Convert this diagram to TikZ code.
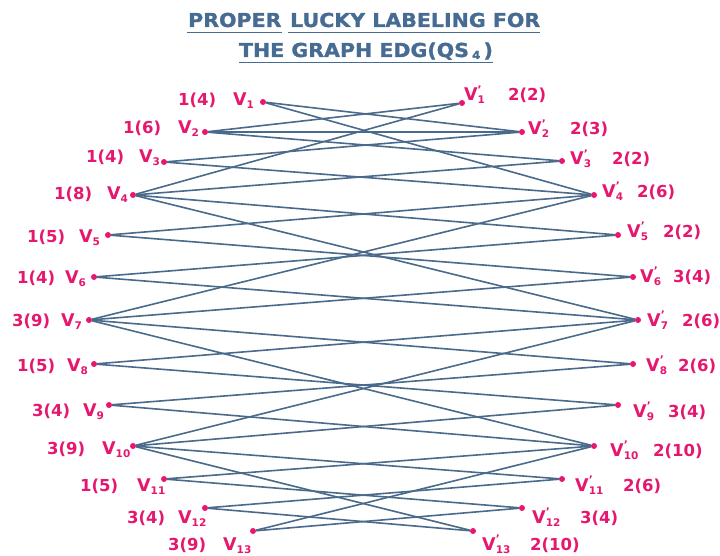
\documentclass[tikz,border=0pt]{standalone}
\usepackage{fontspec}
\usepackage{graphicx}
\setmainfont{DejaVu Sans}
\newfontfamily\ttlfont[FakeBold=1.2]{DejaVu Sans Bold}
\definecolor{edgec}{HTML}{4A6A8C}
\definecolor{mag}{HTML}{E5176F}
\definecolor{titlec}{HTML}{476C93}
\newcommand{\subf}{\fontsize{10.5}{10.5}\selectfont\bfseries}
\newcommand{\vn}[1]{{\fontsize{17.5}{18}\selectfont V}\raisebox{-3pt}{\subf #1}}
\newcommand{\vp}[1]{{\fontsize{17.5}{18}\selectfont V}\rlap{\raisebox{7.5pt}{\subf '}}\raisebox{-3pt}{\subf #1}}
\tikzset{
  dot/.style={circle, fill=mag, inner sep=0pt, minimum size=6pt},
  lab/.style={text=mag, font=\fontsize{16.5}{18}\selectfont\bfseries, inner sep=0pt, anchor=base west},
  ttl/.style={text=titlec, font=\fontsize{19.2}{22}\ttlfont, inner sep=0pt},
  uline/.style={draw=titlec, line width=1.8pt},
  edge/.style={draw=edgec, line width=1.6pt}
}
\begin{document}
\begin{tikzpicture}
\useasboundingbox (0pt,0pt) rectangle (720pt,-556pt);
% title
\node[ttl, anchor=base west] (t1) at (188pt,-27pt) {\scalebox{1.07}[1]{PROPER}};
\node[ttl, anchor=base west] (t2) at (290pt,-27pt) {\scalebox{1.07}[1]{LUCKY LABELING FOR}};
\node[ttl, anchor=base] (t3) at (366pt,-57pt) {\scalebox{1.07}[1]{THE GRAPH EDG(QS\hspace{3pt}\raisebox{-2pt}{\fontsize{11}{11}\selectfont 4}\hspace{3pt})}};
\draw[uline] ([shift={(-1pt,-5.5pt)}]t1.base west) -- ([shift={(0pt,-5.5pt)}]t1.base east);
\draw[uline] ([shift={(-2pt,-5.5pt)}]t2.base west) -- ([shift={(0pt,-5.5pt)}]t2.base east);
\draw[uline] ([shift={(0pt,-5.5pt)}]t3.base west) -- ([shift={(0pt,-5.5pt)}]t3.base east);
% left vertices
\foreach \i/\x/\y/\n/\nx/\vx/\b in {
  1/263/102/1(4)/178/233/106,
  2/205/132/1(6)/123/178/134,
  3/164/162/1(4)/86/139/163,
  4/133/195/1(8)/54/107/200,
  5/108/235/1(5)/27/79/242,
  6/94/277/1(4)/17/65/283,
  7/89/320/3(9)/12/61/326,
  8/94/364/1(5)/17/67/371,
  9/109/405/3(4)/32/83/416,
  10/133/446/3(9)/47/102/454,
  11/164/479/1(5)/80/137/491,
  12/205/508/3(4)/127/178/523,
  13/253/531/3(9)/168/223/550}{
  \node[dot] (L\i) at (\x pt,-\y pt) {};
  \node[lab] (Ln\i) at (\nx pt,-\b pt) {\n};
  \node[lab] (Lv\i) at (\vx pt,-\b pt) {\vn{\i}};
}
% right vertices
\foreach \i/\x/\y/\vx/\n/\nx/\b in {
  1/462/103/464/2(2)/508/101,
  2/522/132/528/2(3)/570/135,
  3/562/161/570/2(2)/612/165,
  4/594/195/602/2(6)/637/197,
  5/618/235/627/2(2)/663/237,
  6/633/277/640/3(4)/673/282,
  7/638/320/647/2(6)/682/326,
  8/633/364/646/2(6)/678/371,
  9/618/405/633/3(4)/668/417,
  10/594/446/610/2(10)/653/456,
  11/562/479/575/2(6)/623/491,
  12/522/508/532/3(4)/580/523,
  13/473/531/482/2(10)/530/550}{
  \node[dot] (R\i) at (\x pt,-\y pt) {};
  \node[lab] (Rv\i) at (\vx pt,-\b pt) {\vp{\i}};
  \node[lab] (Rn\i) at (\nx pt,-\b pt) {\n};
}
% edges
\foreach \a/\c in {1/2,1/4,2/1,2/3,2/2,3/2,3/4,4/1,4/3,4/5,4/7,5/4,5/6,6/5,6/7,
  7/4,7/6,7/8,7/10,8/7,8/9,9/8,9/10,10/7,10/9,10/11,10/13,11/10,11/12,12/11,12/13,13/10,13/12}{
  \draw[edge] (L\a) -- (R\c);
}
\end{tikzpicture}
\end{document}
